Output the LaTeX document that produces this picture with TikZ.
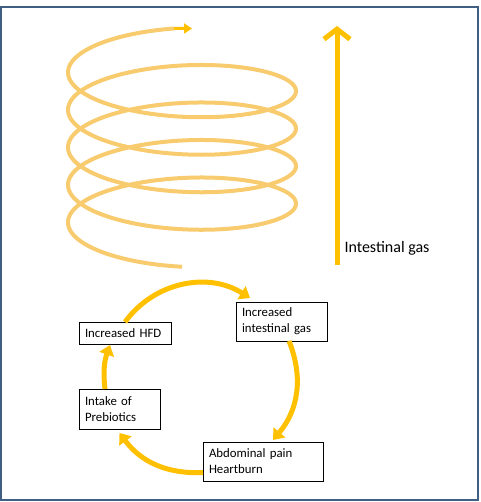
\documentclass[tikz,border=0pt]{standalone}
\usepackage{fontspec}
\setmainfont{Carlito}
\usetikzlibrary{arrows.meta, positioning}
\definecolor{gold}{RGB}{255,192,0}
\definecolor{ribbon}{RGB}{247,203,110}
\definecolor{framecol}{RGB}{65,95,130}

\begin{document}
\begin{tikzpicture}[x=1pt, y=1pt,
  box/.style={draw, thin, fill=white, align=left, inner xsep=6pt, minimum height=22pt, outer sep=0pt, font=\fontsize{12.8}{16}\selectfont},
  loop_arrow/.style={draw=gold, line width=5pt, -{Triangle[length=10pt, width=15pt]}}
]
\useasboundingbox (0,0) rectangle (480,502);
\draw[framecol, line width=1.5pt] (1,2) rectangle (478,495);

% helix
\draw[ribbon, line width=4pt] plot[domain=1710:94, samples=500, smooth] ({182+114*cos(\x)}, {439-0.10417*(\x-90)+35*sin(\x)}) coordinate (helix_end);
\coordinate (helix_tip) at (192,473.5);
\draw[gold, line width=3pt, -{Triangle[length=8pt, width=10pt]}] (helix_end) -- (helix_tip);

% rising gas
\coordinate (gas_low) at (337,237);
\coordinate (gas_high) at (337,476);
\draw[gold, line width=5pt, -{Straight Barb[length=10pt, width=26pt]}] (gas_low) -- (gas_high);
\node[anchor=west, font=\fontsize{16}{18}\selectfont] (gas_label) at (341,254) {Intestinal gas};

% cycle
\node[box, text width=80pt] (hfd) at (125,169) {Increased HFD};
\node[box, text width=79pt, minimum height=39pt] (gas) at (281.5,180.5) {Increased\\intestinal gas};
\node[box, text width=108pt, minimum height=39pt] (pain) at (263,40.5) {Abdominal pain\\Heartburn};
\node[box, text width=69pt, minimum height=40pt] (preb) at (119.5,93) {Intake of\\Prebiotics};

\draw[loop_arrow] (hfd.north) to[bend left=43] ([xshift=14pt, yshift=4pt]gas.north west);
\draw[loop_arrow] ([xshift=7.5pt]gas.south) to[bend left=31] ([xshift=10pt, yshift=2pt]pain.north);
\draw[loop_arrow] ([yshift=-11pt]pain.west) to[bend left=28] ([yshift=-4pt]preb.south);
\draw[loop_arrow] ([xshift=-14.5pt]preb.north) to[bend left=13] ([xshift=-15pt, yshift=-1pt]hfd.south);
\end{tikzpicture}
\end{document}
